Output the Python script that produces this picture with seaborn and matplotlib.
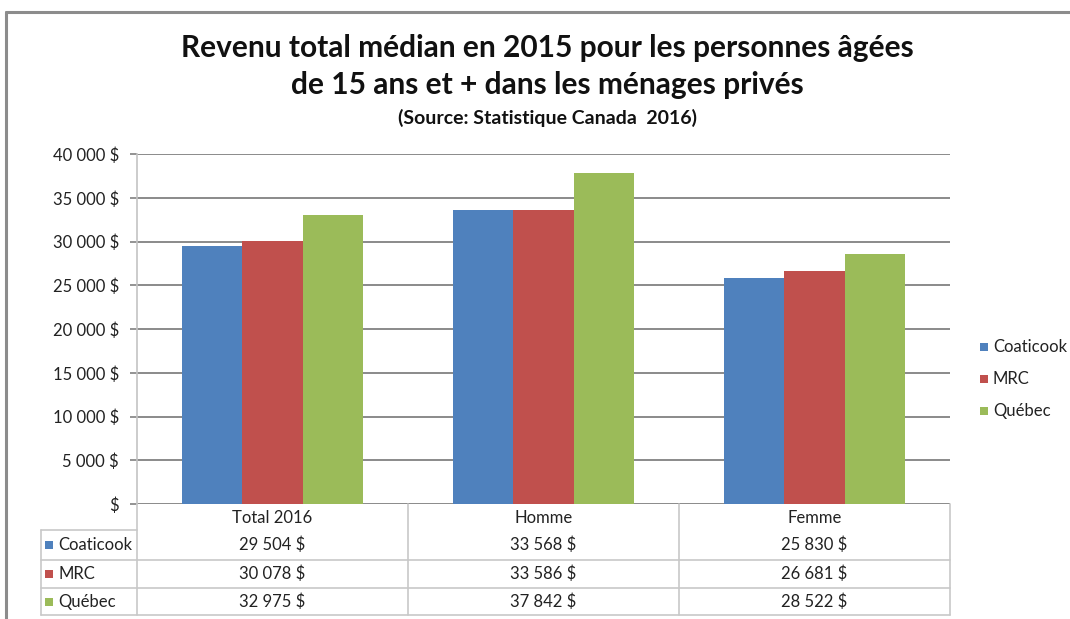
import matplotlib
matplotlib.use("Agg")
import matplotlib.pyplot as plt
import matplotlib.transforms as mtransforms
from matplotlib.lines import Line2D
from matplotlib.patches import Rectangle
import pandas as pd
import seaborn as sns

# --- data -------------------------------------------------------------
categories = ["Total 2016", "Homme", "Femme"]
series = ["Coaticook", "MRC", "Québec"]
coaticook = [29504, 33568, 25830]
mrc = [30078, 33586, 26681]
quebec = [32975, 37842, 28522]
colors = ["#4F81BD", "#C0504D", "#9BBB59"]
y_ticks = [0, 5000, 10000, 15000, 20000, 25000, 30000, 35000, 40000]

values = {"Coaticook": coaticook, "MRC": mrc, "Québec": quebec}
df = pd.DataFrame(
    [(cat, s, values[s][i]) for s in series for i, cat in enumerate(categories)],
    columns=["categorie", "serie", "revenu"],
)


def money(v):
    if v == 0:
        return "$"
    return f"{v:,}".replace(",", " ") + " $"


# --- figure -----------------------------------------------------------
sns.set_theme(style="white")
FONT = ["Lato", "DejaVu Sans"]
plt.rcParams["font.family"] = FONT

W, H = 1070, 619
fig = plt.figure(figsize=(W / 100, H / 100), dpi=100)
fig.patch.set_facecolor("white")


def fx(x):
    return x / W


def fy(y):
    return 1 - y / H


ax = fig.add_axes([fx(137), fy(504), fx(950) - fx(137), fy(154) - fy(504)])

sns.barplot(
    data=df, x="categorie", y="revenu", hue="serie",
    order=categories, hue_order=series, palette=colors,
    width=0.667, saturation=1, edgecolor="none", linewidth=0,
    legend=False, ax=ax,
)

TXT = "#222222"
ax.set_xlim(-0.5, 2.5)
ax.set_ylim(0, 40000)
ax.set_yticks(y_ticks)
ax.set_yticklabels([money(v) for v in y_ticks], fontsize=12, color=TXT)
ax.set_xticks([])
ax.set_xlabel("")
ax.set_ylabel("")
ax.yaxis.grid(True, color="#8a8a8a", linewidth=1.4)
ax.set_axisbelow(True)
for side in ["top", "right", "bottom"]:
    ax.spines[side].set_visible(False)
ax.spines["left"].set_color("#c4c4c4")
ax.spines["left"].set_linewidth(1.2)
ax.tick_params(axis="y", which="major", left=True, length=5, width=1.3,
               color="#8a8a8a", pad=8)

# --- titles -----------------------------------------------------------
title_x = fx(547)
fig.text(title_x, fy(48), "Revenu total médian en 2015 pour les personnes âgées",
         ha="center", va="center", fontsize=21.5, fontweight="bold", color="#111111")
fig.text(title_x, fy(85), "de 15 ans et + dans les ménages privés",
         ha="center", va="center", fontsize=21.5, fontweight="bold", color="#111111")
fig.text(title_x, fy(118), "(Source: Statistique Canada  2016)",
         ha="center", va="center", fontsize=14, fontweight="bold", color="#111111")

# --- legend on the right ----------------------------------------------
for i, (s, c) in enumerate(zip(series, colors)):
    y = 347 + 32 * i
    fig.add_artist(Rectangle((fx(980), fy(y + 4)), fx(8), 8 / H,
                             transform=fig.transFigure, facecolor=c, edgecolor="none"))
    fig.text(fx(993), fy(y), s, ha="left", va="center", fontsize=12, color=TXT)

# --- data table under the axis -----------------------------------------
tr = mtransforms.blended_transform_factory(ax.transData, fig.transFigure)
grid_c = "#c8c8c8"
left_x = fx(41)
row_lines = [560, 588, 615]
for y in row_lines:
    fig.add_artist(Line2D([left_x, fx(950)], [fy(y), fy(y)],
                          transform=fig.transFigure, color=grid_c, lw=1.2))
fig.add_artist(Line2D([left_x, fx(137)], [fy(530), fy(530)],
                      transform=fig.transFigure, color=grid_c, lw=1.2))
fig.add_artist(Line2D([left_x, left_x], [fy(530), fy(615)],
                      transform=fig.transFigure, color=grid_c, lw=1.2))
for xb in [-0.5, 0.5, 1.5, 2.5]:
    fig.add_artist(Line2D([xb, xb], [fy(504), fy(615)], transform=tr,
                          color=grid_c, lw=1.2))

for i, cat in enumerate(categories):
    fig.text(i, fy(518), cat, transform=tr, ha="center", va="center",
             fontsize=12, color=TXT)

row_y = [545, 574, 602]
for r, (s, c) in enumerate(zip(series, colors)):
    y = row_y[r]
    fig.add_artist(Rectangle((fx(45), fy(y + 4)), fx(8), 8 / H,
                             transform=fig.transFigure, facecolor=c, edgecolor="none"))
    fig.text(fx(58), fy(y), s, ha="left", va="center", fontsize=12, color=TXT)
    for i in range(len(categories)):
        fig.text(i, fy(y), money(values[s][i]), transform=tr, ha="center",
                 va="center", fontsize=12, color=TXT)

# --- outer frame --------------------------------------------------------
frame_c = "#8c8c8c"
fig.add_artist(Line2D([fx(6), 1.0], [fy(12), fy(12)], transform=fig.transFigure,
                      color=frame_c, lw=2.2))
fig.add_artist(Line2D([fx(6), fx(6)], [fy(12), 0.0], transform=fig.transFigure,
                      color=frame_c, lw=2.2))

fig.savefig("out.png", dpi=100, facecolor="white")
